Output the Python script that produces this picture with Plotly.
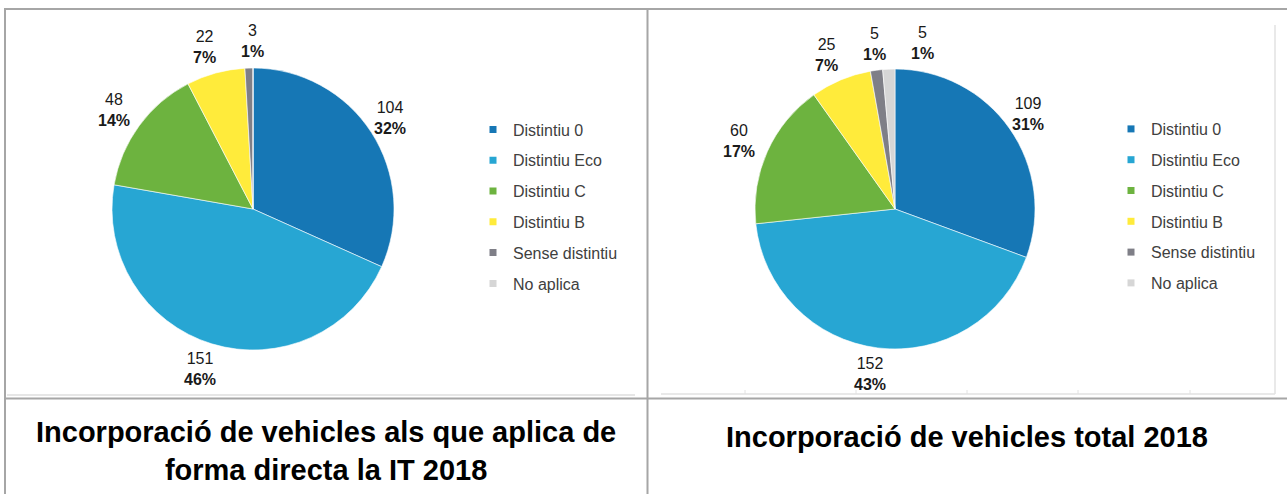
import math
import plotly.graph_objects as go

W, H = 1287, 494

categories = ["Distintiu 0", "Distintiu Eco", "Distintiu C", "Distintiu B", "Sense distintiu", "No aplica"]
colors = ["#1677b5", "#27a6d3", "#6db33f", "#ffeb3b", "#7f7f87", "#d6d6d6"]

values_direct = [104, 151, 48, 22, 3, 0]
pct_direct = [32, 46, 14, 7, 1, 0]

values_total = [109, 152, 60, 25, 5, 5]
pct_total = [31, 43, 17, 7, 1, 1]

title_direct = "Incorporació de vehicles als que aplica de<br>forma directa la IT 2018"
title_total = "Incorporació de vehicles total 2018"

FONT = "Liberation Sans, Arial, sans-serif"


def px_x(p):
    return p / W


def px_y(p):
    return 1 - p / H


# pie geometry (pixels): centre x, centre y, radius
pies = [
    (values_direct, pct_direct, 253, 209, 141),
    (values_total, pct_total, 895, 209, 140),
]

fig = go.Figure()
annotations = []

for vals, pcts, cx, cy, r in pies:
    fig.add_trace(go.Pie(
        labels=categories,
        values=vals,
        textinfo="none",
        sort=False,
        direction="clockwise",
        rotation=0,
        marker=dict(colors=colors, line=dict(color="white", width=0.6)),
        showlegend=False,
        hoverinfo="label+value+percent",
        domain=dict(x=[px_x(cx - r), px_x(cx + r)], y=[px_y(cy + r), px_y(cy - r)]),
    ))
    # data labels placed along each slice's mid-angle (derived from the values)
    total = sum(vals)
    cum = 0
    placed = []
    for v, p in zip(vals, pcts):
        if v == 0:
            continue
        mid = (cum + v / 2) / total * 2 * math.pi
        cum += v
        lx = cx + 1.19 * r * math.sin(mid) - 4
        ly = cy - 1.19 * r * math.cos(mid)
        for (qx, qy) in placed:
            if abs(lx - qx) < 48 and abs(ly - qy) < 38:
                lx = qx + 48
        placed.append((lx, ly))
        annotations.append(dict(
            text=f"{v}<br><b>{p}%</b>", x=px_x(lx), y=px_y(ly), xref="paper", yref="paper",
            showarrow=False, align="center", xanchor="center", yanchor="middle",
            font=dict(family=FONT, size=16, color="#1a1a1a"),
        ))

# legend entries (one group per category so the row spacing can be set)
for leg in ["legend", "legend2"]:
    for cat, col in zip(categories, colors):
        fig.add_trace(go.Scatter(
            x=[None], y=[None], mode="markers", name=cat,
            marker=dict(symbol="square", size=7, color=col),
            legendgroup=f"{leg}-{cat}", legend=leg, showlegend=True, hoverinfo="skip",
        ))

legend_common = dict(
    font=dict(family=FONT, size=16, color="#404040"),
    tracegroupgap=7, bgcolor="rgba(0,0,0,0)", yanchor="top", xanchor="left",
    itemclick=False, itemdoubleclick=False,
)

line_col = "#a6a6a6"
shapes = [
    # table grid
    dict(type="line", xref="paper", yref="paper", x0=px_x(4), x1=1, y0=px_y(9), y1=px_y(9), line=dict(color=line_col, width=2)),
    dict(type="line", xref="paper", yref="paper", x0=px_x(5), x1=px_x(5), y0=px_y(8), y1=0, line=dict(color=line_col, width=2)),
    dict(type="line", xref="paper", yref="paper", x0=px_x(647.5), x1=px_x(647.5), y0=px_y(8), y1=0, line=dict(color=line_col, width=2)),
    dict(type="line", xref="paper", yref="paper", x0=px_x(4), x1=1, y0=px_y(398.5), y1=px_y(398.5), line=dict(color=line_col, width=2)),
    # chart frames
    dict(type="line", xref="paper", yref="paper", x0=px_x(7), x1=px_x(635), y0=px_y(395), y1=px_y(395), line=dict(color="#dedede", width=1.5)),
    dict(type="line", xref="paper", yref="paper", x0=px_x(661), x1=px_x(1275), y0=px_y(394), y1=px_y(394), line=dict(color="#e2e2e2", width=1.5)),
    dict(type="line", xref="paper", yref="paper", x0=px_x(1275), x1=px_x(1275), y0=px_y(25), y1=px_y(394), line=dict(color="#e2e2e2", width=1.5)),
]
for tx in [745, 856, 967, 1078, 1190]:
    shapes.append(dict(type="line", xref="paper", yref="paper", x0=px_x(tx), x1=px_x(tx),
                       y0=px_y(390), y1=px_y(394), line=dict(color="#e2e2e2", width=1)))

title_font = dict(family=FONT, size=29, color="#000000")
annotations += [
    dict(text=f"<b>{title_direct}</b>", x=px_x(326), y=px_y(451), xref="paper", yref="paper",
         showarrow=False, font=title_font, align="center", xanchor="center", yanchor="middle"),
    dict(text=f"<b>{title_total}</b>", x=px_x(967), y=px_y(437), xref="paper", yref="paper",
         showarrow=False, font=title_font, align="center", xanchor="center", yanchor="middle"),
]

fig.update_layout(
    width=W, height=H,
    margin=dict(l=0, r=0, t=0, b=0, pad=0, autoexpand=False),
    paper_bgcolor="white", plot_bgcolor="white",
    xaxis=dict(visible=False), yaxis=dict(visible=False),
    legend=dict(x=px_x(473), y=px_y(112.5), **legend_common),
    legend2=dict(x=px_x(1111), y=px_y(112), **legend_common),
    shapes=shapes,
    annotations=annotations,
)

fig.write_html("out.html", config={"displayModeBar": False},
               post_script="document.body.style.margin='0px';")
